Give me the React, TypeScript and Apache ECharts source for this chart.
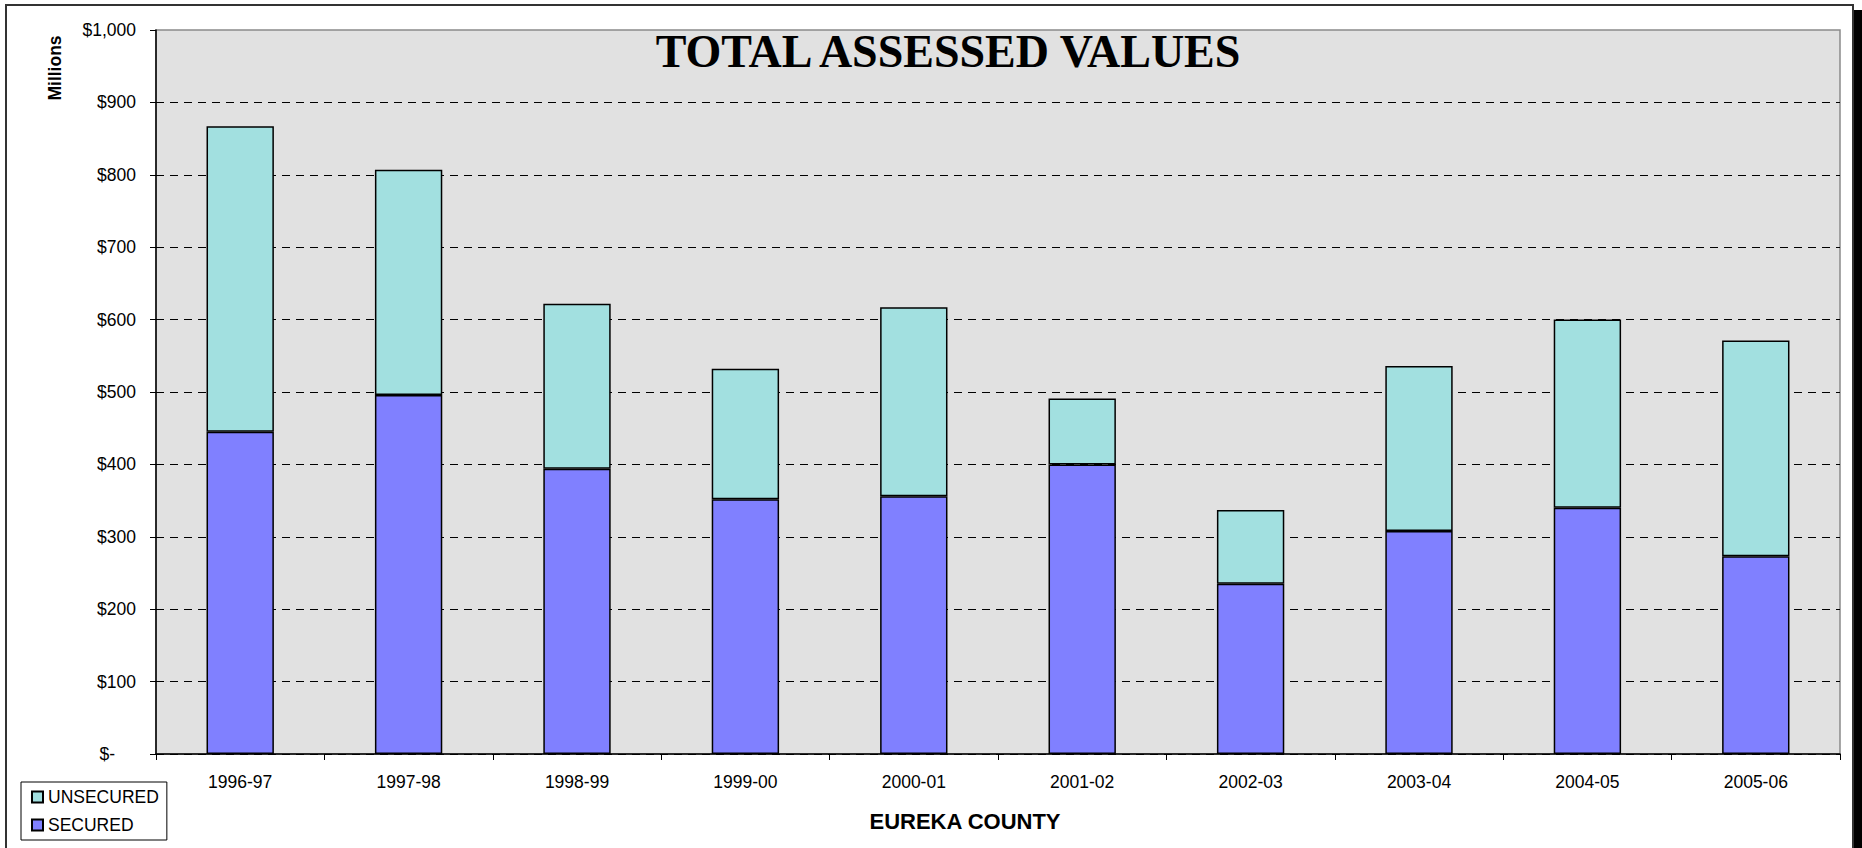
import React, { useEffect, useRef } from "react";
import * as echarts from "echarts";

const categories = ["1996-97", "1997-98", "1998-99", "1999-00", "2000-01", "2001-02", "2002-03", "2003-04", "2004-05", "2005-06"];
const securedValues = [445, 496, 394, 352, 356, 400, 235, 308, 340, 273];
const unsecuredValues = [422, 311, 228, 180, 261, 91, 102, 228, 260, 298];
const seriesNames = ["SECURED", "UNSECURED"];
const legendOrder = ["UNSECURED", "SECURED"];
const titleText = "TOTAL ASSESSED VALUES";
const xAxisTitle = "EUREKA COUNTY";
const yAxisTitle = "Millions";

const SANS = "'Liberation Sans', Arial, sans-serif";
const SERIF = "'Liberation Serif', 'Times New Roman', serif";

export default function App() {
  const ref = useRef<HTMLDivElement>(null);
  useEffect(() => {
    if (!ref.current) return;
    const chart = echarts.init(ref.current, undefined, { renderer: "svg" });
    const barBorder = { borderColor: "#000", borderWidth: 1.5 };
    chart.setOption({
      animation: false,
      backgroundColor: "#fff",
      grid: {
        left: 156,
        top: 30,
        right: 22,
        bottom: 94,
        show: true,
        backgroundColor: "#E1E1E1",
        borderColor: "#8a8a8a",
        borderWidth: 1.5,
      },
      legend: {
        orient: "vertical",
        left: 21,
        top: 782,
        data: legendOrder,
        backgroundColor: "#fff",
        borderColor: "#000",
        borderWidth: 1,
        padding: [6, 8, 6, 10],
        itemGap: 10,
        itemWidth: 11,
        itemHeight: 11,
        icon: "rect",
        selectedMode: false,
        textStyle: { fontFamily: SANS, fontSize: 17.5, color: "#000", lineHeight: 18 },
      },
      xAxis: {
        type: "category",
        data: categories,
        axisLine: { lineStyle: { color: "#000", width: 1.5 } },
        axisTick: { show: true, length: 6, lineStyle: { color: "#000" } },
        axisLabel: { fontFamily: SANS, fontSize: 17.5, color: "#000", margin: 19, interval: 0 },
      },
      yAxis: {
        type: "value",
        min: 0,
        max: 1000,
        interval: 100,
        axisLine: { show: true, lineStyle: { color: "#000", width: 1.5 } },
        axisTick: { show: true, length: 6, lineStyle: { color: "#000" } },
        axisLabel: {
          fontFamily: SANS,
          fontSize: 17.5,
          color: "#000",
          margin: 20,
          formatter: (v: number) => (v === 0 ? "{z|$-}" : "$" + v.toLocaleString("en-US")),
          rich: { z: { fontFamily: SANS, fontSize: 17.5, color: "#000", padding: [0, 21, 0, 0] } },
        },
        splitLine: {
          show: true,
          showMaxLine: false,
          lineStyle: { color: "#000", type: [8, 6], width: 1 },
        },
      },
      series: [
        {
          name: seriesNames[0],
          type: "bar",
          stack: "total",
          data: securedValues,
          barCategoryGap: "60%",
          itemStyle: { color: "#8080FF", ...barBorder },
        },
        {
          name: seriesNames[1],
          type: "bar",
          stack: "total",
          data: unsecuredValues,
          barCategoryGap: "60%",
          itemStyle: { color: "#A2E0E0", ...barBorder },
        },
      ],
      graphic: [
        {
          type: "rect",
          z: 100,
          shape: { x: 6, y: 5, width: 1847, height: 900 },
          style: { fill: "none", stroke: "#333", lineWidth: 2 },
          silent: true,
        },
        {
          type: "rect",
          z: 100,
          shape: { x: 1854, y: 10, width: 10, height: 850 },
          style: { fill: "#000" },
          silent: true,
        },
        {
          type: "text",
          z: 100,
          x: 948,
          y: 51,
          style: {
            text: titleText,
            font: `bold 46px ${SERIF}`,
            fill: "#000",
            align: "center",
            verticalAlign: "middle",
          },
        },
        {
          type: "text",
          z: 100,
          x: 965,
          y: 821,
          style: {
            text: xAxisTitle,
            font: `bold 22px ${SANS}`,
            fill: "#000",
            align: "center",
            verticalAlign: "middle",
          },
        },
        {
          type: "text",
          z: 100,
          x: 55,
          y: 68,
          rotation: Math.PI / 2,
          style: {
            text: yAxisTitle,
            font: `bold 17.5px ${SANS}`,
            fill: "#000",
            align: "center",
            verticalAlign: "middle",
          },
        },
      ],
    });
    return () => chart.dispose();
  }, []);
  return <div ref={ref} style={{ position: "fixed", left: 0, top: 0, width: 1862, height: 848 }} />;
}
